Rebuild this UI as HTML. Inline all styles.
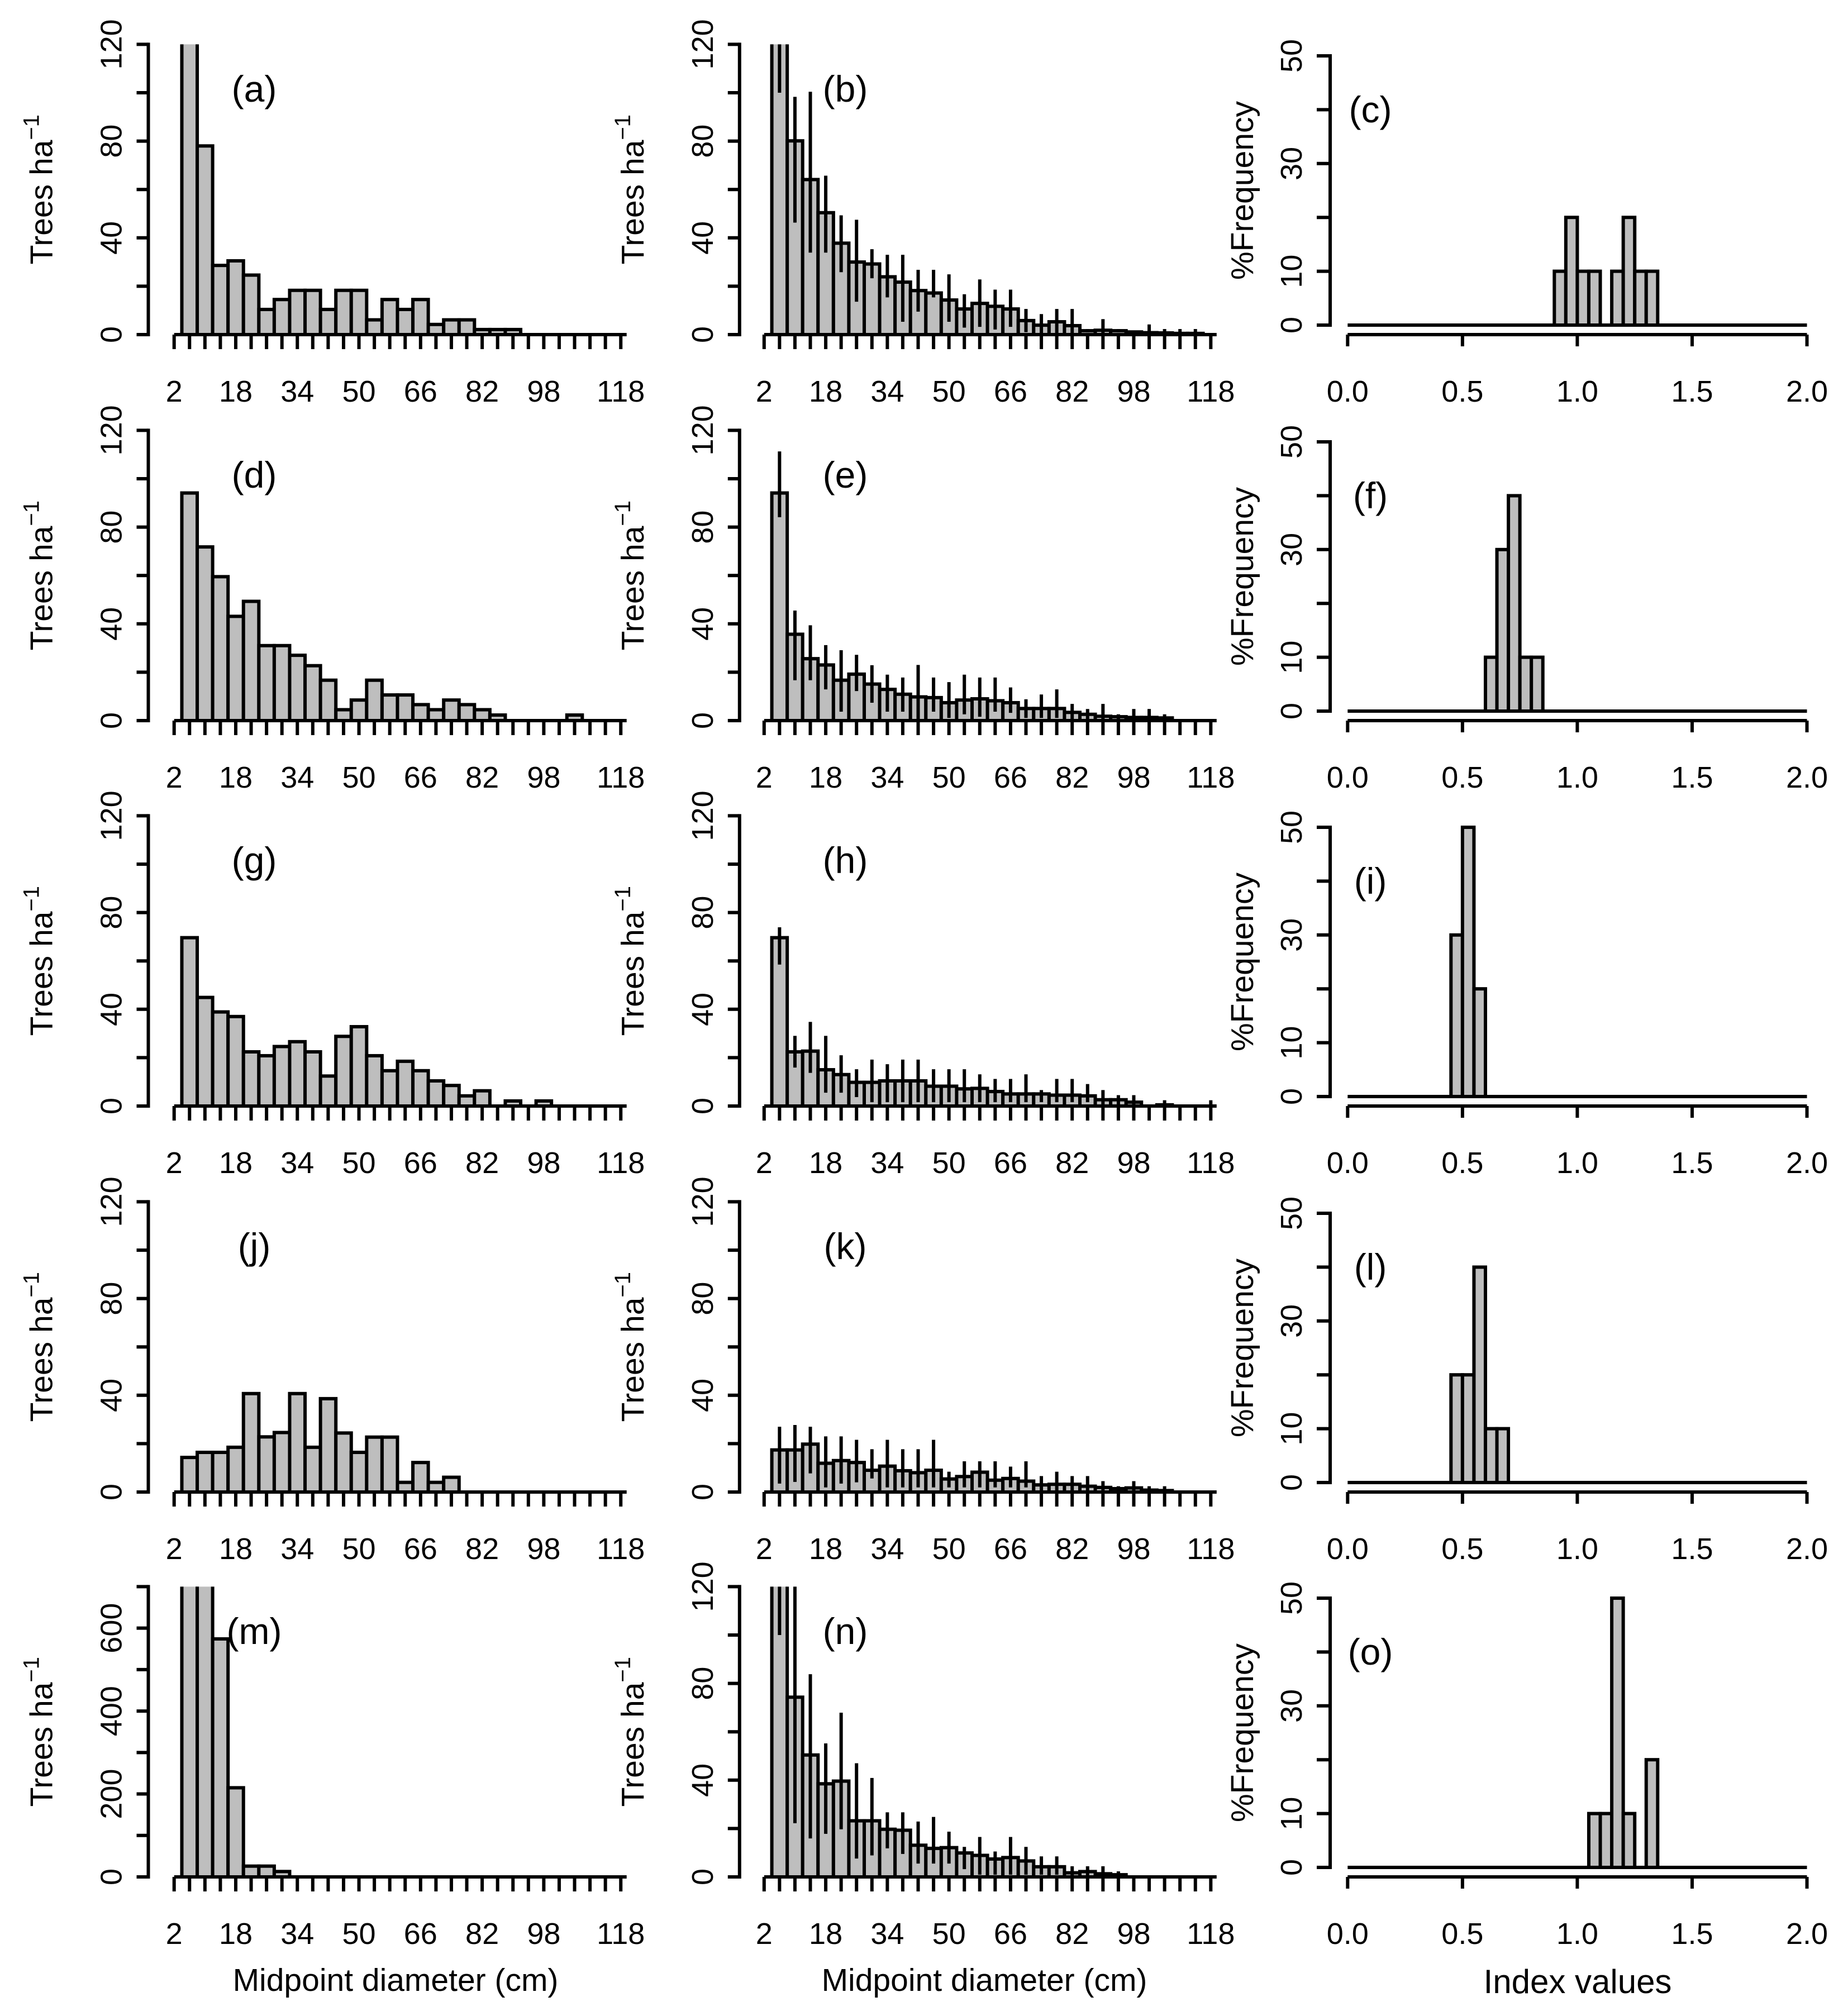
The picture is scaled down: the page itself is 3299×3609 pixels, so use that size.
<!DOCTYPE html>
<html><head><meta charset="utf-8"><title>Diameter distributions</title>
<style>html,body{margin:0;padding:0;background:#fff;}svg{display:block;}text{font-family:"Liberation Sans",Arial,sans-serif;fill:#000;}</style>
</head><body>
<svg id="fig" xmlns="http://www.w3.org/2000/svg" width="3299" height="3609" viewBox="0 0 3299 3609"></svg>
<script>
// ---------- data ----------
const diameterTicks = [2,6,10,14,18,22,26,30,34,38,42,46,50,54,58,62,66,70,74,78,82,86,90,94,98,102,106,110,114,118];
const diameterLabels = ["2","18","34","50","66","82","98","118"];
const panelLetters1 = ["(a)","(d)","(g)","(j)","(m)"];
const panelLetters2 = ["(b)","(e)","(h)","(k)","(n)"];
const panelLetters3 = ["(c)","(f)","(i)","(l)","(o)"];

const obsA = [130,78,28.6,30.5,24.6,10.4,14.5,18.3,18.3,10.4,18.3,18.3,6.1,14.5,10.4,14.5,4.2,6.1,6.1,2.1,2.1,2.1,0,0,0,0,0,0,0];
const obsD = [94.1,71.8,59.5,43.1,49.3,31,31,27,22.7,16.7,4.5,8.5,16.7,10.6,10.6,6.6,4.5,8.5,6.6,4.5,2.3,0,0,0,0,2.3,0,0,0];
const obsG = [69.6,44.9,38.9,37,22.4,20.8,24.6,26.6,22.4,12.4,28.8,32.8,20.8,14.6,18.5,14.6,10.4,8.5,4.2,6.3,0,2.1,0,2.1,0,0,0,0,0];
const obsJ = [14.3,16.4,16.4,18.5,40.7,22.8,24.6,40.7,18.5,38.6,24.4,16.4,22.7,22.7,4,12.2,4,6.1,0,0,0,0,0,0,0,0,0,0,0];
const obsM = [800,800,574,215,26,26,13,0,0,0,0,0,0,0,0,0,0,0,0,0,0,0,0,0,0,0,0,0,0];

const meanB = [130,80.1,64.1,50.4,37.8,30,29.2,23.9,21.7,18.2,17.2,14.3,10.6,12.9,11.7,10.6,5.8,3.9,5.3,3.7,1.6,1.8,1.6,1.1,0.8,0.7,0.5,0.5,0];
const upB = [150,98.3,100.4,65.7,49.3,47.5,35.3,33,33,26.8,26.8,24.9,16.7,22.8,18.6,18.6,10.6,8.5,10.6,10.6,2.3,6.4,2.3,1.1,4.2,2.3,2.3,2.3,0];
const loB = [100,46.3,33.9,33.9,25.8,13.6,23.3,15.4,5.3,9.5,15.4,5.3,2.9,3.2,2.1,3.2,1,0.5,0.5,0.5,0.9,0,0.9,1.1,0,0,0,0,0];

const meanE = [94.1,35.7,25.6,23,16.7,19.2,15.1,12.9,10.9,9.8,9.5,7.4,8.5,9,8.2,7.4,5,5,5,3.4,2.6,1.8,1.6,1.3,1.3,1.1,0,0,0];
const upE = [111.3,45.5,39.4,31.2,29.1,27.2,22.9,19,17.8,23,17.8,15.9,19,17.8,17.8,13.7,8.8,10.8,12.9,6.9,4.8,6.9,2.6,4.8,4.8,2.6,0,0,0];
const loE = [84.1,16.7,16.7,12.9,3.7,12.2,7.4,3.7,3.7,0.5,3.7,1.1,2.6,1.6,3.7,3.2,1.1,1.1,1.1,0,0,0,0.5,0,0,0,0,0,0];

const meanH = [69.6,22.4,22.7,15,13,9.8,9.8,10.4,10.4,10.4,8.2,8.2,7.1,7.3,6,5,5,5,4.5,4.5,4.2,2.6,2.6,1.6,0,0.5,0,0,0];
const upH = [73.9,29,34.8,29,21,15.2,19.2,17.3,19.2,19.2,15.2,15.2,15.2,13.1,11.2,11.2,13.1,6.6,11.2,11.2,9.1,6.6,4.5,4.5,0,2.4,0,0,2.4];
const loH = [58.5,15.9,13.7,5.5,5.5,3.7,1.6,1.6,1.6,1.6,1.6,1.6,1.6,1.6,1.6,1.6,1.6,1.6,1.6,1.6,1.6,0,0,0,0,0,0,0,0];

const meanK = [17.4,17.4,19.8,11.9,13,12.2,9,10.7,8.8,8,9,5.4,6.4,8.2,4.9,5.6,4.5,2.95,3.2,3.2,2.4,1.9,1.4,1.7,0.8,0.6,0,0,0];
const upK = [27,27.7,27,23,23,21.6,17.7,21.6,17.7,17.7,21.6,8.4,12.7,12.7,12.7,10.5,12.7,6.6,8.4,6.6,6.6,4.5,2.4,4.5,2.4,2.4,0,0,0];
const loK = [3.5,4.2,7.7,1.9,3.5,4,5.6,1.9,1.9,1.9,1.9,1.9,1.9,1.9,1.9,1.9,1.9,0,0,0,0,0,0,0,0,0,0,0,0];

const meanN = [130,74.3,50.4,38.5,39.6,23.2,23.2,19.7,19.3,13.1,11.8,12.1,9.9,8.9,7.4,8,6.6,4.2,4.2,1.7,2.2,1.3,0.9,0,0,0,0,0,0];
const upN = [150,150,83.8,55.2,67.9,47,40.9,26.7,26.7,22.9,24.8,18.7,12.4,16.5,10.5,16.5,12.4,8.5,8.5,4.4,4.4,4.4,2.3,0,0,0,0,0,0];
const loN = [100,22.2,15.9,17.8,19.7,7.6,8.9,11.8,9.5,5.5,5.5,5.5,3.2,0.9,0.9,0.9,0.9,0.9,0.9,0,0,0,0,0,0,0,0,0,0];

const indexBins = [0.90,0.95,1.00,1.05,1.10,1.15,1.20,1.25,1.30];
const freqC = [10,20,10,10,0,10,20,10,10];
const binsF = [0.60,0.65,0.70,0.75,0.80];
const freqF = [10,30,40,10,10];
const binsI = [0.45,0.50,0.55];
const freqI = [30,50,20];
const binsL = [0.45,0.50,0.55,0.60,0.65];
const freqL = [20,20,40,10,10];
const binsO = [1.05,1.10,1.15,1.20,1.25,1.30];
const freqO = [10,10,50,10,0,20];
const indexTickValues = [0,0.5,1,1.5,2];
const indexTickLabels = ["0.0","0.5","1.0","1.5","2.0"];
const freqTickLabels = ["0","10","30","50"];

// ---------- layout ----------
const NS = "http://www.w3.org/2000/svg";
const svg = document.getElementById("fig");
const rowZero = [599,1290,1980,2671,3360];
const plotH = 519.6;
const colX0 = [311.7,1367.8];
const yAxisX = [265.5,1323.8];
const step = 27.57/4;
const FS = 54;
function el(tag, attrs, parent){const e=document.createElementNS(NS,tag);for(const k in attrs)e.setAttribute(k,attrs[k]);(parent||svg).appendChild(e);return e;}
function txt(s, attrs, parent){const t=el("text",attrs,parent);t.textContent=s;return t;}

function xD(col,d){return colX0[col]+(d-2)*step;}

function barPanel(col,row,vals,up,lo,ymax,tickStep,labelVals,letter,name){
  const g=el("g",{});
  
  
  const z=rowZero[row];
  const yS=v=>z-Math.min(v,ymax*1.2)*plotH/ymax;
  const cid="clip-"+name;
  const cp=el("clipPath",{id:cid},g);
  el("rect",{x:colX0[col]-30,y:z-plotH,width:900,height:plotH+10},cp);
  const bg=el("g",{"clip-path":"url(#"+cid+")"},g);
  for(let i=0;i<vals.length;i++){
    const d=diameterTicks[i+1];
    const cx=xD(col,d);
    if(vals[i]>0){
      const y=yS(vals[i]);
      const r=el("rect",{x:cx-step*2,y:y,width:step*4,height:z-y,fill:"#bebebe",stroke:"#000","stroke-width":6},bg);
      
      
    }
    if(up && up[i]>0){
      const l=el("line",{x1:cx,x2:cx,y1:yS(lo[i]),y2:yS(up[i]),stroke:"#000","stroke-width":6},bg);
      
      
    }
  }
  // y axis
  const ya=el("g",{},g);
  
  
  el("line",{x1:yAxisX[col],x2:yAxisX[col],y1:z,y2:z-plotH,stroke:"#000","stroke-width":6,"stroke-linecap":"square"},ya);
  for(let v=0;v<=ymax+1e-9;v+=tickStep){
    const y=z-v*plotH/ymax;
    el("line",{x1:yAxisX[col]-21,x2:yAxisX[col],y1:y,y2:y,stroke:"#000","stroke-width":6},ya);
  }
  labelVals.forEach(v=>{
    const y=z-v*plotH/ymax;const lx=yAxisX[col]-67+19;
    const t=txt(String(v),{x:lx,y:y,"font-size":FS,"text-anchor":"middle",transform:"rotate(-90 "+lx+" "+y+")"},ya);
    
    
  });
  const tx=yAxisX[col]-192+20, ty=z-plotH/2;
  const yt=txt("Trees ha",{x:tx,y:ty,"font-size":57,"text-anchor":"middle",transform:"rotate(-90 "+tx+" "+ty+")"},ya);
  const sup=el("tspan",{dy:-24,"font-size":40},yt);sup.textContent="\u22121";
  
  
  // x axis
  const xa=el("g",{},g);
  
  
  el("line",{x1:colX0[col],x2:colX0[col]+810,y1:z,y2:z,stroke:"#000","stroke-width":6},xa);
  diameterTicks.forEach(d=>{el("line",{x1:xD(col,d),x2:xD(col,d),y1:z,y2:z+26,stroke:"#000","stroke-width":6},xa);});
  diameterLabels.forEach(s=>{
    const t=txt(s,{x:xD(col,+s),y:z+120,"font-size":FS,"text-anchor":"middle"},xa);
    
    
  });
  const pl=txt(letter,{x:col===0?455:1513,y:z-417,"font-size":66,"text-anchor":"middle"},g);
  
  
  if(row===4){
    const at=txt("Midpoint diameter (cm)",{x:col===0?708:1762,y:3564,"font-size":57,"text-anchor":"middle"},g);
    
    
  }
}

const x3_0=2412.3, x3_unit=411.1, axis3=2381, plotH3=482;
function xI(v){return x3_0+v*x3_unit;}
function histPanel(row,bins,freqs,letter,name){
  const g=el("g",{});
  
  
  const z=rowZero[row], z3=z-17;
  const yF=v=>z3-v*plotH3/50;
  el("line",{x1:xI(0),x2:xI(2),y1:z3,y2:z3,stroke:"#000","stroke-width":6},g);
  bins.forEach((b,i)=>{
    if(freqs[i]>0){
      const r=el("rect",{x:xI(b),y:yF(freqs[i]),width:0.05*x3_unit,height:freqs[i]*plotH3/50,fill:"#bebebe",stroke:"#000","stroke-width":6},g);
      
      
    }
  });
  const ya=el("g",{},g);
  
  
  el("line",{x1:axis3,x2:axis3,y1:z3,y2:z3-plotH3,stroke:"#000","stroke-width":6,"stroke-linecap":"square"},ya);
  for(let v=0;v<=50;v+=10){el("line",{x1:axis3-24,x2:axis3,y1:yF(v),y2:yF(v),stroke:"#000","stroke-width":6},ya);}
  freqTickLabels.forEach(s=>{
    const y=yF(+s), lx=2330;
    const t=txt(s,{x:lx,y:y,"font-size":FS,"text-anchor":"middle",transform:"rotate(-90 "+lx+" "+y+")"},ya);
    
    
  });
  const tx=2243, ty=z3-241;
  const yt=txt("%Frequency",{x:tx,y:ty,"font-size":57,"text-anchor":"middle",transform:"rotate(-90 "+tx+" "+ty+")"},ya);
  
  
  const xa=el("g",{},g);
  
  
  el("line",{x1:xI(0),x2:xI(2),y1:z,y2:z,stroke:"#000","stroke-width":6},xa);
  indexTickValues.forEach((v,i)=>{
    el("line",{x1:xI(v),x2:xI(v),y1:z,y2:z+21,stroke:"#000","stroke-width":6},xa);
    const t=txt(indexTickLabels[i],{x:xI(v),y:z+120,"font-size":FS,"text-anchor":"middle"},xa);
    
    
  });
  const pl=txt(letter,{x:2453,y:z3-363,"font-size":66,"text-anchor":"middle"},g);
  
  
  if(row===4){
    const at=txt("Index values",{x:2824,y:3568,"font-size":60,"text-anchor":"middle"},g);
    
    
  }
}

barPanel(0,0,obsA,null,null,120,20,[0,40,80,120],panelLetters1[0],"panel-a");
barPanel(0,1,obsD,null,null,120,20,[0,40,80,120],panelLetters1[1],"panel-d");
barPanel(0,2,obsG,null,null,120,20,[0,40,80,120],panelLetters1[2],"panel-g");
barPanel(0,3,obsJ,null,null,120,20,[0,40,80,120],panelLetters1[3],"panel-j");
barPanel(0,4,obsM,null,null,700,100,[0,200,400,600],panelLetters1[4],"panel-m");
barPanel(1,0,meanB,upB,loB,120,20,[0,40,80,120],panelLetters2[0],"panel-b");
barPanel(1,1,meanE,upE,loE,120,20,[0,40,80,120],panelLetters2[1],"panel-e");
barPanel(1,2,meanH,upH,loH,120,20,[0,40,80,120],panelLetters2[2],"panel-h");
barPanel(1,3,meanK,upK,loK,120,20,[0,40,80,120],panelLetters2[3],"panel-k");
barPanel(1,4,meanN,upN,loN,120,20,[0,40,80,120],panelLetters2[4],"panel-n");
histPanel(0,indexBins,freqC,panelLetters3[0],"panel-c");
histPanel(1,binsF,freqF,panelLetters3[1],"panel-f");
histPanel(2,binsI,freqI,panelLetters3[2],"panel-i");
histPanel(3,binsL,freqL,panelLetters3[3],"panel-l");
histPanel(4,binsO,freqO,panelLetters3[4],"panel-o");
</script>
</body></html>
